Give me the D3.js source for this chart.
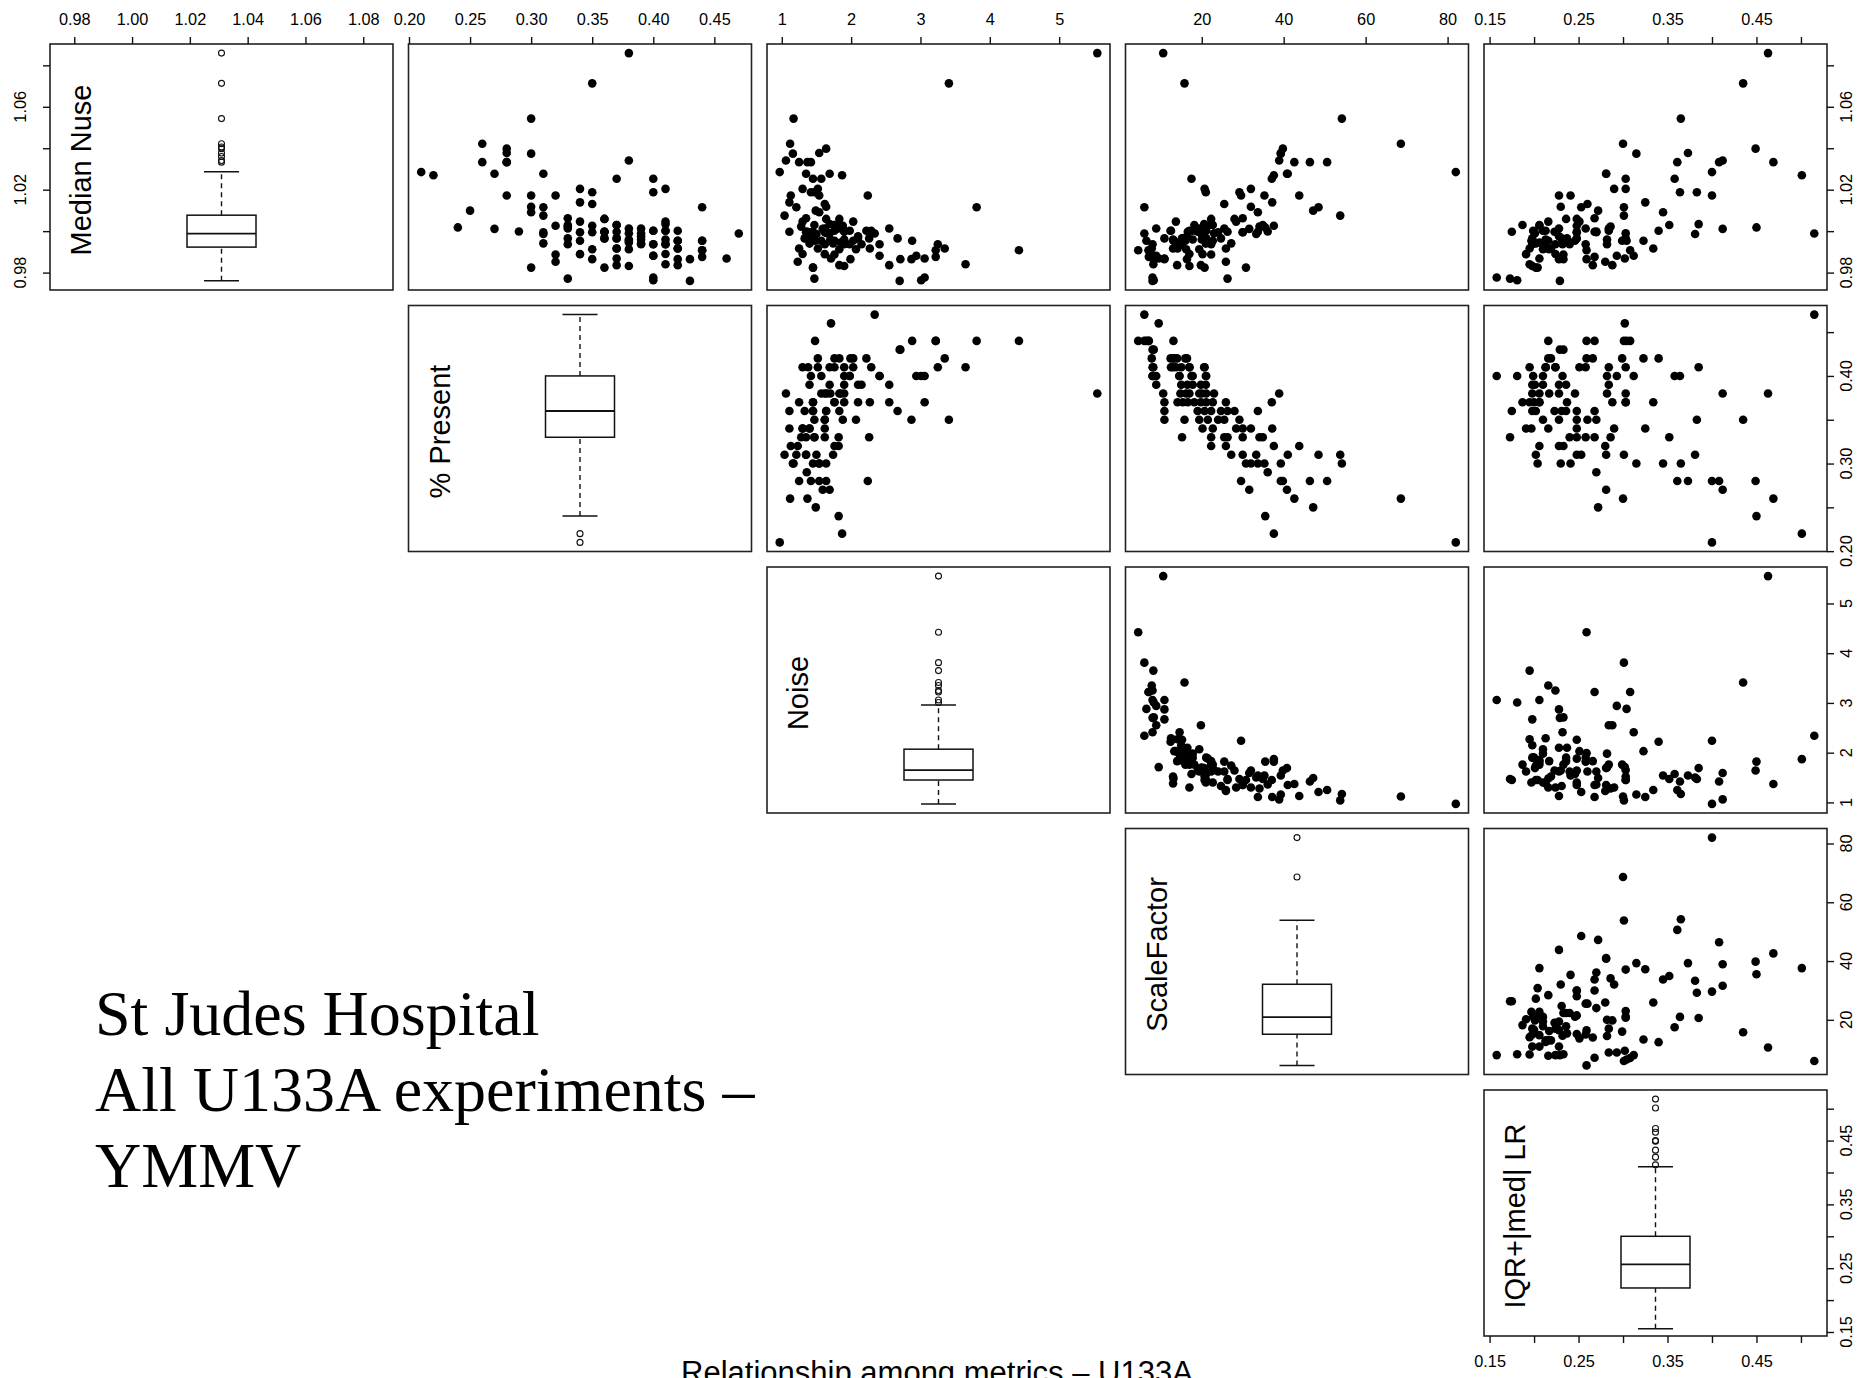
<!DOCTYPE html>
<html>
<head>
<meta charset="utf-8">
<script src="https://cdn.jsdelivr.net/npm/d3@7"></script>
<style>
  body { margin: 0; background: #fff; }
  svg { display: block; }
</style>
</head>
<body>
<svg id="chart" width="1861" height="1378"></svg>
<script>
// Variable names shown on the diagonal
const varNames = ["Median Nuse", "% Present", "Noise", "ScaleFactor", "IQR+|med| LR"];

// One entry per experiment (same order in every array)
const medianNuse = [
  1.0285, 1.0270, 1.0018, 1.0099, 1.0422, 1.0333, 1.0277, 1.0011, 1.0172, 1.0398,
  1.0333, 1.0333, 1.0377, 0.9998, 1.0543, 0.9824, 1.0118, 1.0091, 1.0374, 1.0172,
  1.0075, 1.0115, 1.0277, 0.9986, 0.9941, 0.9995, 1.0172, 1.0026, 0.9887, 0.9852,
  0.9965, 0.9937, 1.0013, 0.9771, 1.0062, 1.0022, 1.0030, 0.9889, 0.9954, 1.0046,
  0.9995, 1.0204, 1.0139, 1.0713, 0.9865, 0.9913, 1.0026, 1.0131, 1.0188, 0.9995,
  0.9965, 0.9997, 0.9824, 1.0059, 0.9965, 0.9997, 1.0059, 0.9997, 0.9868, 0.9916,
  0.9965, 0.9997, 1.0030, 0.9836, 0.9965, 1.0030, 0.9916, 1.0253, 1.0859, 0.9913,
  1.0013, 0.9954, 1.0341, 0.9832, 0.9960, 0.9990, 0.9945, 1.0013, 0.9937, 0.9960,
  0.9990, 0.9975, 0.9940, 0.9776, 0.9763, 0.9881, 0.9937, 1.0002, 1.0002, 1.0253,
  1.0188, 0.9937, 0.9881, 0.9840, 0.9937, 1.0002, 1.0046, 0.9937, 1.0002, 1.0204,
  1.0034, 0.9960, 0.9890, 0.9916, 1.0002, 0.9954, 0.9865, 0.9836, 0.9954, 0.9916,
  0.9760, 0.9865, 0.9908, 1.0115, 0.9876, 0.9954, 0.9954, 0.9908, 0.9868, 0.9989
];
const percentPresent = [
  0.21, 0.22, 0.24, 0.25, 0.26, 0.26, 0.27, 0.27, 0.28, 0.28,
  0.28, 0.28, 0.28, 0.29, 0.30, 0.30, 0.30, 0.30, 0.30, 0.30,
  0.31, 0.31, 0.31, 0.31, 0.31, 0.31, 0.32, 0.32, 0.32, 0.32,
  0.33, 0.33, 0.33, 0.33, 0.33, 0.33, 0.33, 0.34, 0.34, 0.34,
  0.34, 0.34, 0.34, 0.35, 0.35, 0.35, 0.35, 0.35, 0.35, 0.35,
  0.36, 0.36, 0.36, 0.36, 0.36, 0.36, 0.36, 0.36, 0.37, 0.37,
  0.37, 0.37, 0.37, 0.37, 0.37, 0.37, 0.37, 0.37, 0.38, 0.38,
  0.38, 0.38, 0.38, 0.38, 0.38, 0.38, 0.38, 0.39, 0.39, 0.39,
  0.39, 0.39, 0.39, 0.40, 0.40, 0.40, 0.40, 0.40, 0.40, 0.40,
  0.40, 0.40, 0.40, 0.41, 0.41, 0.41, 0.41, 0.41, 0.41, 0.41,
  0.41, 0.41, 0.41, 0.42, 0.42, 0.42, 0.42, 0.42, 0.42, 0.42,
  0.43, 0.43, 0.44, 0.44, 0.44, 0.44, 0.44, 0.44, 0.46, 0.47
];
const noise = [
  0.97, 1.87, 1.82, 1.49, 1.12, 1.37, 1.69, 1.59, 2.24, 1.64,
  1.42, 1.25, 1.54, 1.36, 1.17, 1.45, 1.64, 1.54, 1.16, 1.54,
  1.04, 1.21, 1.35, 1.50, 1.74, 1.35, 1.13, 1.82, 1.76, 1.23,
  2.26, 1.62, 1.82, 1.47, 1.35, 1.28, 1.47, 1.62, 1.40, 1.30,
  1.40, 1.30, 1.11, 3.41, 2.87, 2.07, 1.88, 1.62, 1.47, 1.62,
  2.67, 1.64, 1.45, 1.83, 1.33, 1.45, 1.64, 1.11, 3.06, 2.27,
  2.10, 1.90, 1.76, 2.55, 1.45, 1.76, 1.25, 1.45, 5.55, 1.83,
  1.62, 1.57, 1.06, 1.90, 1.70, 1.65, 1.85, 2.55, 2.15, 1.90,
  1.69, 2.10, 1.40, 3.06, 3.01, 2.94, 2.41, 1.98, 1.90, 1.57,
  1.42, 1.98, 2.41, 3.65, 3.25, 2.29, 2.03, 1.90, 1.76, 1.52,
  1.69, 1.38, 1.30, 3.35, 2.22, 2.03, 1.99, 1.83, 1.76, 1.52,
  2.70, 2.71, 4.42, 3.81, 3.22, 1.48, 2.88, 3.22, 1.71, 2.34
];
const scaleFactor = [
  82.0, 37.6, 35.5, 47.2, 68.6, 42.6, 40.8, 31.6, 29.6, 39.8,
  46.4, 50.6, 39.3, 36.1, 54.2, 30.8, 32.0, 33.7, 39.3, 35.3,
  53.8, 48.5, 41.0, 33.3, 27.2, 30.0, 43.8, 37.6, 22.3, 25.9,
  15.2, 22.3, 25.5, 26.3, 30.0, 34.1, 34.9, 20.2, 22.7, 28.4,
  30.0, 32.0, 37.2, 15.8, 10.9, 19.4, 21.5, 25.5, 29.2, 24.0,
  10.9, 19.0, 20.7, 22.3, 24.7, 26.3, 28.0, 33.7, 10.9, 14.1,
  15.4, 16.6, 18.2, 19.8, 21.1, 22.7, 25.9, 37.1, 10.6, 16.2,
  19.4, 21.1, 38.9, 17.0, 20.0, 23.0, 14.8, 8.9, 15.0, 17.8,
  19.8, 16.5, 21.0, 8.0, 8.3, 8.9, 14.6, 17.8, 21.1, 17.5,
  21.0, 14.5, 8.0, 8.2, 8.0, 12.5, 13.7, 15.0, 17.0, 20.7,
  20.6, 13.0, 17.0, 7.8, 12.4, 13.3, 16.4, 14.0, 16.0, 13.0,
  8.0, 8.3, 4.5, 6.0, 7.1, 13.1, 6.5, 7.0, 9.5, 6.0
];
const iqrMedLR = [
  0.400, 0.501, 0.450, 0.272, 0.300, 0.469, 0.281, 0.412, 0.400, 0.449,
  0.408, 0.361, 0.373, 0.270, 0.365, 0.204, 0.230, 0.345, 0.315, 0.241,
  0.301, 0.253, 0.281, 0.381, 0.202, 0.248, 0.228, 0.206, 0.233, 0.280,
  0.248, 0.240, 0.258, 0.173, 0.268, 0.286, 0.352, 0.191, 0.197, 0.216,
  0.248, 0.290, 0.325, 0.435, 0.228, 0.210, 0.248, 0.260, 0.383, 0.270,
  0.198, 0.223, 0.202, 0.236, 0.231, 0.175, 0.248, 0.268, 0.206, 0.195,
  0.237, 0.200, 0.187, 0.288, 0.303, 0.206, 0.334, 0.303, 0.463, 0.217,
  0.228, 0.246, 0.412, 0.198, 0.282, 0.303, 0.206, 0.284, 0.198, 0.236,
  0.201, 0.228, 0.210, 0.158, 0.181, 0.293, 0.232, 0.210, 0.199, 0.358,
  0.364, 0.282, 0.312, 0.195, 0.224, 0.213, 0.251, 0.258, 0.284, 0.303,
  0.385, 0.213, 0.224, 0.216, 0.340, 0.323, 0.259, 0.266, 0.299, 0.219,
  0.229, 0.233, 0.259, 0.301, 0.268, 0.216, 0.304, 0.308, 0.302, 0.515
];

// Box-and-whisker summaries: [lower whisker, Q1, median, Q3, upper whisker]
const nuseBox = [0.9761, 0.9923, 0.9988, 1.0077, 1.0287];
const presentBox = [0.24, 0.33, 0.36, 0.40, 0.47];
const noiseBox = [0.97, 1.45, 1.65, 2.07, 2.96];
const sfBox = [4.5, 15.1, 20.9, 32.1, 53.9];
const iqrBox = [0.155, 0.219, 0.256, 0.300, 0.409];
// Values beyond the whiskers
const nuseOut = [1.0333, 1.0341, 1.0360, 1.0377, 1.0398, 1.0406, 1.0422, 1.0543, 1.0713, 1.0859];
const presentOut = [0.21, 0.22];
const noiseOut = [3.01, 3.06, 3.22, 3.25, 3.35, 3.41, 3.65, 3.81, 4.42, 5.55];
const sfOut = [68.6, 82.0];
const iqrOut = [0.412, 0.424, 0.435, 0.449, 0.450, 0.463, 0.469, 0.501, 0.515];

// Axis ticks and which of them carry a printed label
const nuseTicks = [0.98, 1.00, 1.02, 1.04, 1.06, 1.08];
const presentTicks = [0.20, 0.25, 0.30, 0.35, 0.40, 0.45];
const noiseTicks = [1, 2, 3, 4, 5];
const sfTicks = [20, 40, 60, 80];
const iqrTicks = [0.15, 0.20, 0.25, 0.30, 0.35, 0.40, 0.45, 0.50];
const nuseSideLabels = [0.98, 1.02, 1.06];
const presentSideLabels = [0.20, 0.30, 0.40];
const iqrLabels = [0.15, 0.25, 0.35, 0.45];

const noteLines = ["St Judes Hospital", "All U133A experiments \u2013", "YMMV"];
const subTitle = "Relationship among metrics \u2013 U133A";

// ---------------------------------------------------------------- layout
const svg = d3.select("#chart");
const PW = 343, PH = 246;
const colX = [50, 408.5, 767, 1125.5, 1484];
const rowY = [44, 305.5, 567, 828.5, 1090];
const INK = "#111";
const axisFont = "'Liberation Sans', Arial, sans-serif";
const tickFontSize = 16.3;

const series = [medianNuse, percentPresent, noise, scaleFactor, iqrMedLR];
const boxes = [nuseBox, presentBox, noiseBox, sfBox, iqrBox];
const outs = [nuseOut, presentOut, noiseOut, sfOut, iqrOut];
const ticks = [nuseTicks, presentTicks, noiseTicks, sfTicks, iqrTicks];
const fmts = [d3.format(".2f"), d3.format(".2f"), d3.format("d"), d3.format("d"), d3.format(".2f")];

// R-style ranges: data extent widened by 4% on each side
function padded(values) {
  const [lo, hi] = d3.extent(values);
  const r = hi - lo;
  return [lo - 0.04 * r, hi + 0.04 * r];
}
const xScales = series.map((v, i) => d3.scaleLinear().domain(padded(v)).range([colX[i], colX[i] + PW]));
const yScales = series.map((v, i) => d3.scaleLinear().domain(padded(v)).range([rowY[i] + PH, rowY[i]]));

// ---------------------------------------------------------------- panels
for (let r = 0; r < 5; r++) {
  for (let c = r; c < 5; c++) {
    const g = svg.append("g");
    if (c > r) {
      const xs = xScales[c], ys = yScales[r];
      g.selectAll("circle")
        .data(d3.range(series[0].length))
        .join("circle")
        .attr("cx", k => xs(series[c][k]))
        .attr("cy", k => ys(series[r][k]))
        .attr("r", 4.3)
        .attr("fill", "#000");
    } else {
      // diagonal: vertical box plot plus the variable name
      const ys = yScales[r];
      const cx = colX[c] + PW / 2;
      const b = boxes[r];
      const bw = 69, sw = 35;
      g.append("line").attr("x1", cx).attr("x2", cx).attr("y1", ys(b[0])).attr("y2", ys(b[1]))
        .attr("stroke", INK).attr("stroke-width", 1.4).attr("stroke-dasharray", "5,4");
      g.append("line").attr("x1", cx).attr("x2", cx).attr("y1", ys(b[3])).attr("y2", ys(b[4]))
        .attr("stroke", INK).attr("stroke-width", 1.4).attr("stroke-dasharray", "5,4");
      [b[0], b[4]].forEach(v => g.append("line")
        .attr("x1", cx - sw / 2).attr("x2", cx + sw / 2).attr("y1", ys(v)).attr("y2", ys(v))
        .attr("stroke", INK).attr("stroke-width", 1.5));
      g.append("rect").attr("x", cx - bw / 2).attr("width", bw)
        .attr("y", ys(b[3])).attr("height", ys(b[1]) - ys(b[3]))
        .attr("fill", "none").attr("stroke", INK).attr("stroke-width", 1.5);
      g.append("line").attr("x1", cx - bw / 2).attr("x2", cx + bw / 2)
        .attr("y1", ys(b[2])).attr("y2", ys(b[2]))
        .attr("stroke", INK).attr("stroke-width", 1.8);
      g.selectAll("circle.out").data(outs[r]).join("circle").attr("class", "out")
        .attr("cx", cx).attr("cy", v => ys(v)).attr("r", 3)
        .attr("fill", "none").attr("stroke", INK).attr("stroke-width", 1.1);
      g.append("text")
        .attr("transform", `translate(${colX[c] + 41},${rowY[r] + PH / 2 + 3}) rotate(-90)`)
        .attr("text-anchor", "middle")
        .attr("font-family", axisFont).attr("font-size", 29).attr("fill", "#000")
        .text(varNames[r]);
    }
    g.append("rect").attr("x", colX[c]).attr("y", rowY[r]).attr("width", PW).attr("height", PH)
      .attr("fill", "none").attr("stroke", "#222").attr("stroke-width", 1.6);
  }
}

// ---------------------------------------------------------------- axes
function styleAxis(sel) {
  sel.select(".domain").remove();
  sel.selectAll(".tick line").attr("stroke", INK).attr("stroke-width", 1.4);
  sel.selectAll(".tick text").attr("font-family", axisFont).attr("font-size", tickFontSize).attr("fill", "#000");
}
const labelSets = [nuseTicks, presentTicks, noiseTicks, sfTicks, iqrLabels];
const rowLabelSets = [nuseSideLabels, presentSideLabels, noiseTicks, sfTicks, iqrLabels];
const has = (arr, v) => arr.some(a => Math.abs(a - v) < 1e-9);

// top axes on every column
for (let c = 0; c < 5; c++) {
  svg.append("g").attr("transform", `translate(0,${rowY[0]})`)
    .call(d3.axisTop(xScales[c]).tickValues(ticks[c]).tickSize(7).tickPadding(12)
      .tickFormat(v => has(labelSets[c], v) ? fmts[c](v) : ""))
    .call(styleAxis);
}
// bottom axis under the last column
svg.append("g").attr("transform", `translate(0,${rowY[4] + PH})`)
  .call(d3.axisBottom(xScales[4]).tickValues(iqrTicks).tickSize(7).tickPadding(12)
    .tickFormat(v => has(iqrLabels, v) ? fmts[4](v) : ""))
  .call(styleAxis);

// right axes on every row, rotated labels
for (let r = 0; r < 5; r++) {
  const g = svg.append("g").attr("transform", `translate(${colX[4] + PW},0)`)
    .call(d3.axisRight(yScales[r]).tickValues(ticks[r]).tickSize(7).tickFormat(""))
    .call(styleAxis);
  g.selectAll("text.lab").data(rowLabelSets[r]).join("text").attr("class", "lab")
    .attr("transform", v => `translate(25,${yScales[r](v)}) rotate(-90)`)
    .attr("text-anchor", "middle")
    .attr("font-family", axisFont).attr("font-size", tickFontSize).attr("fill", "#000")
    .text(v => fmts[r](v));
}
// left axis on the first row
{
  const g = svg.append("g").attr("transform", `translate(${colX[0]},0)`)
    .call(d3.axisLeft(yScales[0]).tickValues(nuseTicks).tickSize(7).tickFormat(""))
    .call(styleAxis);
  g.selectAll("text.lab").data(nuseSideLabels).join("text").attr("class", "lab")
    .attr("transform", v => `translate(-24,${yScales[0](v)}) rotate(-90)`)
    .attr("text-anchor", "middle")
    .attr("font-family", axisFont).attr("font-size", tickFontSize).attr("fill", "#000")
    .text(v => fmts[0](v));
}

// ---------------------------------------------------------------- text
svg.append("g").selectAll("text").data(noteLines).join("text")
  .attr("x", 95).attr("y", (d, i) => 1035 + i * 76)
  .attr("font-family", "'Liberation Serif', 'Times New Roman', serif")
  .attr("font-size", 64).attr("fill", "#000")
  .text(d => d);

svg.append("text")
  .attr("x", 937).attr("y", 1383).attr("text-anchor", "middle")
  .attr("font-family", axisFont).attr("font-size", 31).attr("fill", "#000")
  .text(subTitle);
</script>
</body>
</html>
